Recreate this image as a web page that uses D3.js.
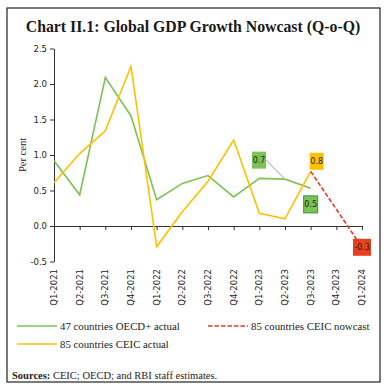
<html>
<head>
  <meta charset="utf-8">
  <script src="https://d3js.org/d3.v7.min.js"></script>
  <style>
    body { margin: 0; background: #fff; }
    .axis text { font-family: "DejaVu Sans", sans-serif; font-size: 8.5px; fill: #222; }
    .axis path, .axis line { stroke: #333; }
    .serif { font-family: "Liberation Serif", serif; }
  </style>
</head>
<body>
  <svg id="chart" width="386" height="389"></svg>
  <script>
    const quarters = ["Q1-2021", "Q2-2021", "Q3-2021", "Q4-2021", "Q1-2022", "Q2-2022", "Q3-2022",
      "Q4-2022", "Q1-2023", "Q2-2023", "Q3-2023", "Q4-2023", "Q1-2024"];
    const oecdActual = [0.92, 0.44, 2.09, 1.55, 0.37, 0.60, 0.71, 0.41, 0.67, 0.66, 0.53, null, null];
    const ceicActual = [0.61, 1.02, 1.34, 2.25, -0.29, 0.20, 0.63, 1.21, 0.18, 0.10, 0.77, null, null];
    const ceicNowcast = [null, null, null, null, null, null, null, null, null, null, 0.77, null, -0.3];
    const yTicks = [-0.5, 0.0, 0.5, 1.0, 1.5, 2.0, 2.5];

    const svg = d3.select("svg#chart");

    // frame
    svg.append("rect").attr("x", 7).attr("y", 8).attr("width", 373).attr("height", 374)
      .attr("fill", "none").attr("stroke", "#222").attr("stroke-width", 1.2);

    svg.append("text").attr("class", "serif")
      .attr("x", 193).attr("y", 32).attr("text-anchor", "middle")
      .style("font-size", "15.8px").style("font-weight", "bold").style("fill", "#1a1a1a")
      .text("Chart II.1: Global GDP Growth Nowcast (Q-o-Q)");

    const x = d3.scalePoint().domain(quarters).range([54, 362]);
    const y = d3.scaleLinear().domain([-0.5, 2.5]).range([261.5, 48.5]);

    // y axis
    svg.append("g").attr("class", "axis")
      .attr("transform", "translate(54,0)")
      .call(d3.axisLeft(y).tickValues(yTicks).tickFormat(d => d.toFixed(1)).tickSize(4).tickSizeOuter(0));

    // x axis on zero line
    const xa = svg.append("g").attr("class", "axis")
      .attr("transform", `translate(0,${y(0)})`)
      .call(d3.axisBottom(x).tickSize(4).tickSizeOuter(0).tickFormat(""));
    xa.selectAll(".tick line").attr("stroke", "#888");

    svg.append("g").attr("class", "axis")
      .selectAll("text").data(quarters).enter().append("text")
      .attr("transform", d => `translate(${x(d)},269) rotate(-90)`)
      .attr("text-anchor", "end").attr("dy", "0.35em")
      .text(d => d);

    svg.append("text").attr("class", "serif")
      .attr("transform", "translate(22,155) rotate(-90)")
      .attr("text-anchor", "middle").attr("dy", "0.35em")
      .style("font-size", "10.5px").style("fill", "#222")
      .text("Per cent");

    const line = d3.line().x(d => x(d.q)).y(d => y(d.v));
    const toPts = arr => quarters.map((q, i) => ({ q: q, v: arr[i] })).filter(d => d.v !== null);

    svg.append("path").datum(toPts(oecdActual)).attr("d", line)
      .attr("fill", "none").attr("stroke", "#7cc353").attr("stroke-width", 1.6);
    svg.append("path").datum(toPts(ceicActual)).attr("d", line)
      .attr("fill", "none").attr("stroke", "#ffc000").attr("stroke-width", 1.6);
    svg.append("path").datum(toPts(ceicNowcast)).attr("d", line)
      .attr("fill", "none").attr("stroke", "#e8392b").attr("stroke-width", 1.6)
      .attr("stroke-dasharray", "4.5,2");

    // data labels
    const labels = [
      { q: "Q2-2023", v: oecdActual[9], text: "0.7", dx: -26, dy: -19, fill: "#7cc353", stroke: "none", leader: true },
      { q: "Q3-2023", v: oecdActual[10], text: "0.5", dx: 0, dy: 16, fill: "#7cc353", stroke: "#2e9a3c", leader: false },
      { q: "Q3-2023", v: ceicActual[10], text: "0.8", dx: 6, dy: -10, fill: "#ffc000", stroke: "none", leader: false },
      { q: "Q1-2024", v: ceicNowcast[12], text: "-0.3", dx: 0, dy: 0, fill: "#e8401c", stroke: "none", leader: false }
    ];
    labels.forEach(l => {
      const cx = x(l.q) + l.dx, cy = y(l.v) + l.dy;
      const w = l.text.length > 3 ? 18 : 14, h = 17;
      if (l.leader) {
        svg.append("line").attr("x1", cx + w / 2).attr("y1", cy)
          .attr("x2", x(l.q)).attr("y2", y(l.v))
          .attr("stroke", "#bbb").attr("stroke-width", 1.2);
      }
      svg.append("rect").attr("x", cx - w / 2).attr("y", cy - h / 2)
        .attr("width", w).attr("height", h).attr("fill", l.fill)
        .attr("stroke", l.stroke).attr("stroke-width", 1);
      svg.append("text").attr("x", cx).attr("y", cy).attr("dy", "0.35em")
        .attr("text-anchor", "middle")
        .style("font-family", "DejaVu Sans, sans-serif").style("font-size", "8px").style("fill", "#222")
        .text(l.text);
    });

    // legend
    const legend = [
      { label: "47 countries OECD+ actual", color: "#7cc353", dash: null, lx: 17, ly: 326 },
      { label: "85 countries CEIC nowcast", color: "#e8392b", dash: "4.5,2", lx: 208, ly: 326 },
      { label: "85 countries CEIC actual", color: "#ffc000", dash: null, lx: 17, ly: 344 }
    ];
    legend.forEach(d => {
      svg.append("line").attr("x1", d.lx).attr("x2", d.lx + 40).attr("y1", d.ly).attr("y2", d.ly)
        .attr("stroke", d.color).attr("stroke-width", 1.6).attr("stroke-dasharray", d.dash);
      svg.append("text").attr("class", "serif").attr("x", d.lx + 43).attr("y", d.ly).attr("dy", "0.35em")
        .style("font-size", "10.8px").style("fill", "#222").text(d.label);
    });

    const src = svg.append("text").attr("class", "serif").attr("x", 12).attr("y", 375).attr("dy", "0.35em")
      .style("font-size", "10.5px").style("fill", "#222");
    src.append("tspan").style("font-weight", "bold").text("Sources:");
    src.append("tspan").text(" CEIC; OECD; and RBI staff estimates.");
  </script>
</body>
</html>
